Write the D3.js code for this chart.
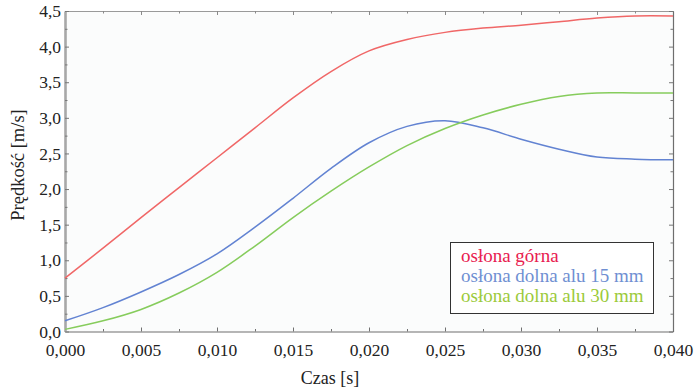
<!DOCTYPE html>
<html>
<head>
<meta charset="utf-8">
<script src="https://cdn.jsdelivr.net/npm/d3@7"></script>
<style>
  html, body { margin: 0; padding: 0; background: #ffffff; }
  svg { display: block; }
</style>
</head>
<body>
<svg id="chart" width="698" height="389"></svg>
<script>
// Time samples [s]
const czas = [0, 0.0025, 0.005, 0.0075, 0.010, 0.0125, 0.015, 0.0175, 0.020,
              0.0225, 0.025, 0.0275, 0.030, 0.0325, 0.035, 0.0375, 0.040];

// Velocity [m/s] for each shield variant
const oslonaGorna = [0.75, 1.17, 1.60, 2.02, 2.44, 2.86, 3.28, 3.65, 3.94,
                     4.10, 4.20, 4.26, 4.30, 4.35, 4.40, 4.43, 4.43];
const oslonaDolna15 = [0.15, 0.335, 0.555, 0.80, 1.09, 1.465, 1.87, 2.29, 2.65,
                       2.88, 2.96, 2.86, 2.70, 2.56, 2.45, 2.42, 2.41];
const oslonaDolna30 = [0.03, 0.15, 0.31, 0.54, 0.83, 1.20, 1.60, 1.97, 2.31,
                       2.61, 2.85, 3.04, 3.19, 3.30, 3.35, 3.35, 3.35];

const seriesNames = ["osłona górna", "osłona dolna alu 15 mm", "osłona dolna alu 30 mm"];
const xTicks = [0, 0.005, 0.010, 0.015, 0.020, 0.025, 0.030, 0.035, 0.040];
const yTicks = [0, 0.5, 1.0, 1.5, 2.0, 2.5, 3.0, 3.5, 4.0, 4.5];

const lineColors = ["#f06767", "#6283d2", "#86cc5c"];
const textColors = ["#e8204f", "#6f8fd2", "#9bca3a"];

const FONT = "'Liberation Serif', 'Times New Roman', serif";

const svg = d3.select("#chart").attr("font-family", FONT);
const m = { left: 65, right: 673, top: 11, bottom: 331.5 };

const x = d3.scaleLinear().domain([0, 0.040]).range([m.left, m.right]);
const y = d3.scaleLinear().domain([0, 4.5]).range([m.bottom, m.top]);

const fmt = (d, p) => d.toFixed(p).replace(".", ",");
const isMajor = (arr, d) => arr.some(t => Math.abs(t - d) < 1e-9);

// plot background
svg.append("rect")
  .attr("x", m.left).attr("y", m.top)
  .attr("width", m.right - m.left).attr("height", m.bottom - m.top)
  .attr("fill", "#fbfcfc");

// bottom axis (labels + inward ticks)
const xMinor = d3.range(0, 0.0401, 0.0025);
const bottomAxis = d3.axisBottom(x).tickValues(xMinor).tickSizeInner(-4).tickSizeOuter(0)
  .tickFormat(d => isMajor(xTicks, d) ? fmt(d, 3) : "");
const gx = svg.append("g").attr("transform", `translate(0,${m.bottom})`).call(bottomAxis)
  .attr("font-family", FONT).attr("font-size", 17.5);
gx.select(".domain").attr("stroke", "#6e6e6e").attr("stroke-width", 1.2);
gx.selectAll(".tick line")
  .attr("stroke", "#707070")
  .attr("y2", d => isMajor(xTicks, d) ? -4 : -2.5);
gx.selectAll(".tick text").attr("y", 12).attr("fill", "#222");

// top axis ticks
const topAxis = d3.axisTop(x).tickValues(xMinor).tickSizeInner(-4).tickSizeOuter(0).tickFormat("");
const gt = svg.append("g").attr("transform", `translate(0,${m.top})`).call(topAxis);
gt.select(".domain").attr("stroke", "#9a9a9a").attr("stroke-width", 1.2);
gt.selectAll(".tick line").attr("stroke", "#8a8a8a")
  .attr("y2", d => isMajor(xTicks, d) ? 4 : 2.5);

// left axis
const yMinor = d3.range(0, 4.501, 0.25);
const leftAxis = d3.axisLeft(y).tickValues(yMinor).tickSizeInner(-3).tickSizeOuter(0)
  .tickFormat(d => isMajor(yTicks, d) ? fmt(d, 1) : "");
const gy = svg.append("g").attr("transform", `translate(${m.left},0)`).call(leftAxis)
  .attr("font-family", FONT).attr("font-size", 17.5);
gy.select(".domain").attr("stroke", "#a8a8a8").attr("stroke-width", 2.6);
gy.selectAll(".tick line").attr("stroke", "#777")
  .attr("x2", d => isMajor(yTicks, d) ? 4 : 2.5);
gy.selectAll(".tick text").attr("x", -4).attr("fill", "#222");

// right axis ticks
const rightAxis = d3.axisRight(y).tickValues(yMinor).tickSizeInner(-3).tickSizeOuter(0).tickFormat("");
const gr = svg.append("g").attr("transform", `translate(${m.right},0)`).call(rightAxis);
gr.select(".domain").attr("stroke", "#6e6e6e").attr("stroke-width", 1.2);
gr.selectAll(".tick line").attr("stroke", "#777")
  .attr("x2", d => isMajor(yTicks, d) ? -4 : -2.5);

// velocity curves
const line = d3.line().x(d => x(d[0])).y(d => y(d[1])).curve(d3.curveCatmullRom.alpha(0.5));
[oslonaGorna, oslonaDolna15, oslonaDolna30].forEach((vals, i) => {
  svg.append("path")
    .datum(czas.map((t, k) => [t, vals[k]]))
    .attr("fill", "none")
    .attr("stroke", lineColors[i])
    .attr("stroke-width", 1.5)
    .attr("d", line);
});

// axis titles
svg.append("text")
  .attr("x", 330).attr("y", 384)
  .attr("text-anchor", "middle")
  .attr("font-size", 18).attr("fill", "#222")
  .text("Czas [s]");

svg.append("text")
  .attr("transform", "translate(24,165) rotate(-90)")
  .attr("text-anchor", "middle")
  .attr("font-size", 18.5).attr("fill", "#222")
  .text("Prędkość [m/s]");

// legend
const lg = svg.append("g");
lg.append("rect")
  .attr("x", 450.5).attr("y", 242.5)
  .attr("width", 203).attr("height", 71)
  .attr("fill", "#ffffff").attr("stroke", "#333").attr("stroke-width", 1);
seriesNames.forEach((name, i) => {
  lg.append("text")
    .attr("x", 461).attr("y", 262 + i * 20)
    .attr("font-size", 19)
    .attr("fill", textColors[i])
    .text(name);
});
</script>
</body>
</html>
